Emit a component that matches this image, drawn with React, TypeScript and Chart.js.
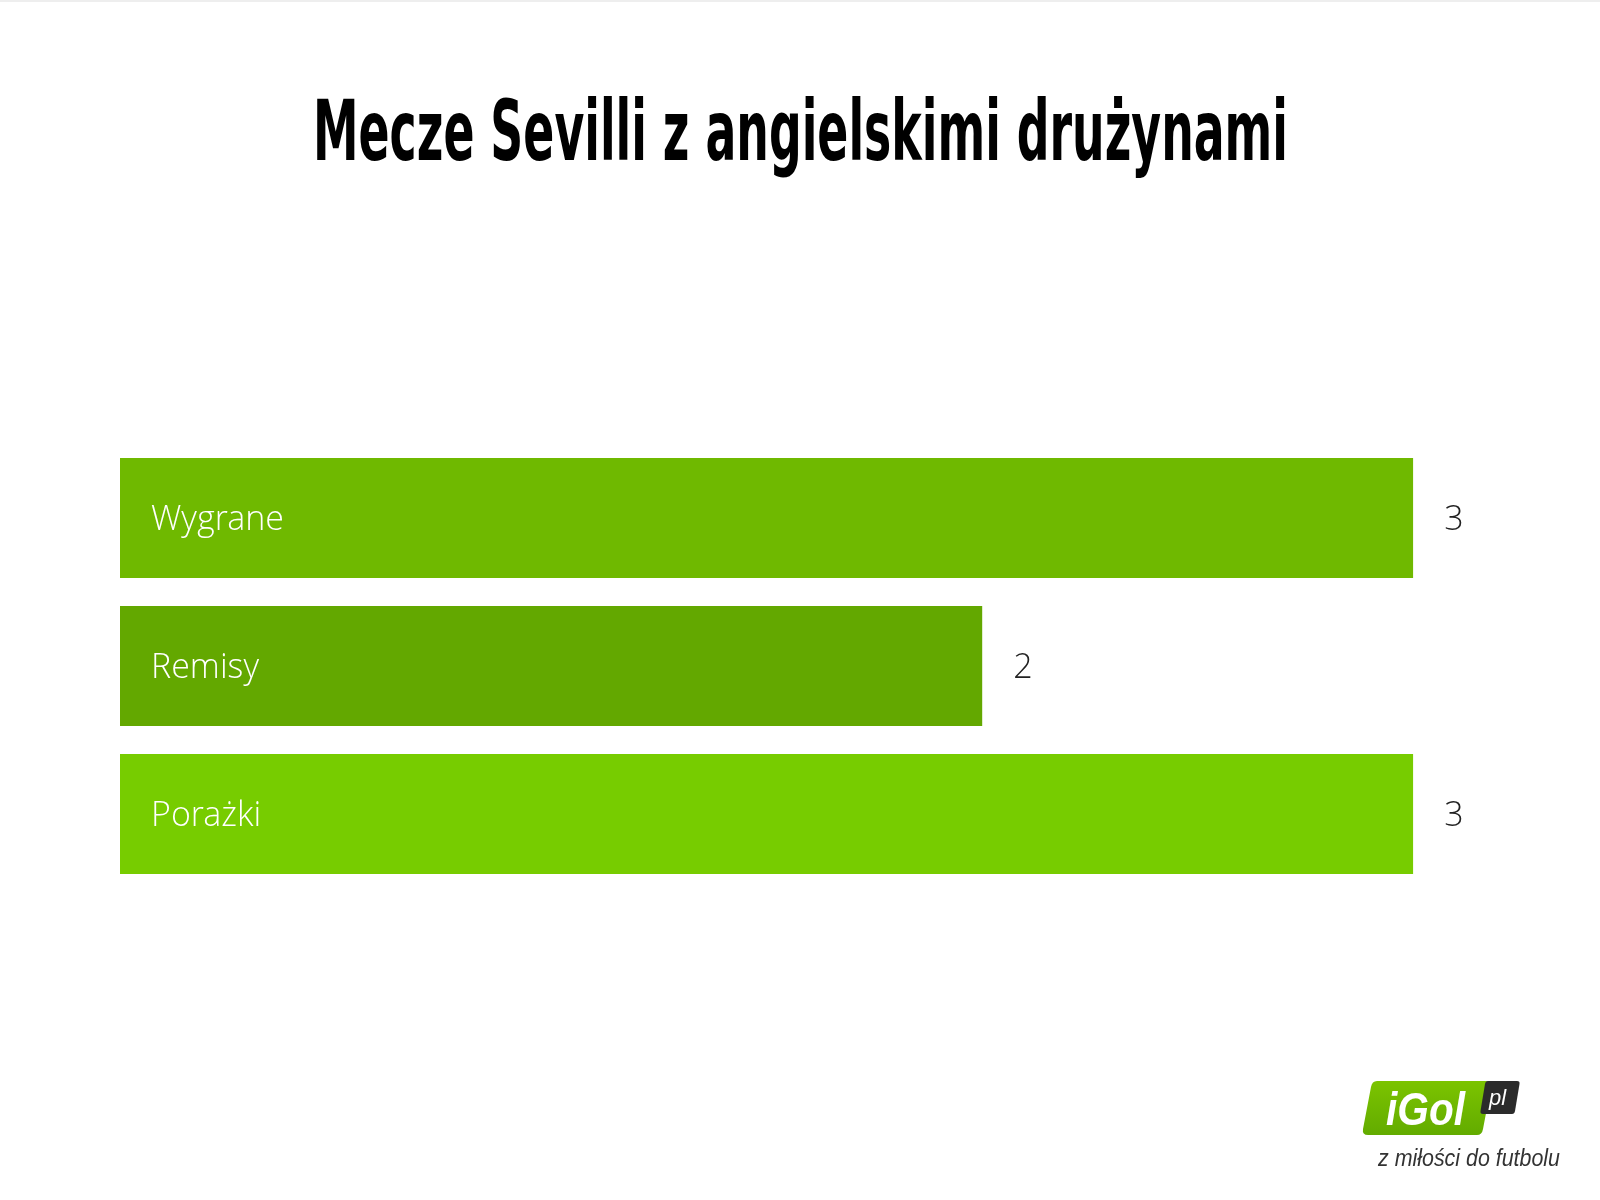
import React, { useEffect, useRef } from "react";
import { Chart, registerables } from "chart.js";

Chart.register(...registerables);

const TITLE = "Mecze Sevilli z angielskimi drużynami";
const categories = ["Wygrane", "Remisy", "Porażki"];
const values = [3, 2, 3];
const barColors = ["#6fb900", "#63a800", "#77cc00"];
const axisMax = 3;
const LOGO_MAIN = "iGol";
const LOGO_SUFFIX = "pl";
const LOGO_TAGLINE = "z miłości do futbolu";

const decorPlugin = {
  id: "decor",
  beforeDraw(chart: any) {
    const ctx = chart.ctx as CanvasRenderingContext2D;
    ctx.save();
    ctx.fillStyle = "#ffffff";
    ctx.fillRect(0, 0, chart.width, chart.height);
    ctx.fillStyle = "#eeeeee";
    ctx.fillRect(0, 0, chart.width, 2);
    ctx.restore();
  },
  afterDraw(chart: any) {
    const ctx = chart.ctx as CanvasRenderingContext2D;
    // Title, condensed
    ctx.save();
    ctx.font = "bold 84px 'Liberation Sans Narrow', 'DejaVu Sans Condensed', 'Liberation Sans', sans-serif";
    ctx.fillStyle = "#000000";
    ctx.textBaseline = "alphabetic";
    ctx.textAlign = "left";
    const w = ctx.measureText(TITLE).width;
    const targetW = 975;
    const sx = targetW / w;
    const left = 800.5 - targetW / 2;
    ctx.translate(left, 160);
    ctx.scale(sx, 1);
    ctx.fillText(TITLE, 0, 0);
    ctx.restore();

    // Logo
    ctx.save();
    const g = ctx.createLinearGradient(0, 1080, 0, 1136);
    g.addColorStop(0, "#7cc400");
    g.addColorStop(1, "#62ab00");
    ctx.fillStyle = g;
    const r = 6;
    const x0 = 1362, y0 = 1081, x1 = 1492, y1 = 1135, sk = 9;
    ctx.beginPath();
    ctx.moveTo(x0 + sk + r, y0);
    ctx.lineTo(x1 - r, y0);
    ctx.quadraticCurveTo(x1, y0, x1 - 1, y0 + r);
    ctx.lineTo(x1 - sk, y1 - r);
    ctx.quadraticCurveTo(x1 - sk - 1, y1, x1 - sk - r, y1);
    ctx.lineTo(x0 + r, y1);
    ctx.quadraticCurveTo(x0, y1, x0 + 1, y1 - r);
    ctx.lineTo(x0 + sk, y0 + r);
    ctx.quadraticCurveTo(x0 + sk + 1, y0, x0 + sk + r, y0);
    ctx.closePath();
    ctx.fill();

    // dark box
    ctx.fillStyle = "#2b2b2b";
    const bx0 = 1480, by0 = 1081, bx1 = 1520, by1 = 1114, bsk = 5;
    ctx.beginPath();
    ctx.moveTo(bx0 + bsk + 3, by0);
    ctx.lineTo(bx1 - 3, by0);
    ctx.quadraticCurveTo(bx1, by0, bx1 - 0.5, by0 + 3);
    ctx.lineTo(bx1 - bsk, by1 - 3);
    ctx.quadraticCurveTo(bx1 - bsk - 0.5, by1, bx1 - bsk - 3, by1);
    ctx.lineTo(bx0 + 3, by1);
    ctx.quadraticCurveTo(bx0, by1, bx0 + 0.5, by1 - 3);
    ctx.lineTo(bx0 + bsk, by0 + 3);
    ctx.quadraticCurveTo(bx0 + bsk + 0.5, by0, bx0 + bsk + 3, by0);
    ctx.closePath();
    ctx.fill();

    ctx.fillStyle = "#ffffff";
    ctx.textBaseline = "alphabetic";
    ctx.textAlign = "left";
    ctx.font = "italic bold 46px 'Liberation Sans Narrow', 'Liberation Sans', sans-serif";
    const mw = ctx.measureText(LOGO_MAIN).width;
    ctx.save();
    ctx.translate(1386, 1125);
    ctx.scale(79 / mw, 1);
    ctx.fillText(LOGO_MAIN, 0, 0);
    ctx.restore();
    ctx.font = "italic 22px 'Liberation Sans', 'DejaVu Sans', sans-serif";
    ctx.fillText(LOGO_SUFFIX, 1489, 1105);

    ctx.fillStyle = "#333333";
    ctx.font = "italic 23px 'Liberation Sans Narrow', 'Liberation Sans', sans-serif";
    const tw = ctx.measureText(LOGO_TAGLINE).width;
    ctx.translate(1378, 1166);
    ctx.scale(182 / tw, 1);
    ctx.fillText(LOGO_TAGLINE, 0, 0);
    ctx.restore();
  },
  afterDatasetsDraw(chart: any) {
    const ctx = chart.ctx as CanvasRenderingContext2D;
    const meta = chart.getDatasetMeta(0);
    ctx.save();
    ctx.font = "300 34px 'Open Sans Light', 'Open Sans', sans-serif";
    ctx.textBaseline = "alphabetic";
    ctx.textAlign = "left";
    meta.data.forEach((bar: any, i: number) => {
      const y = bar.y + 12;
      ctx.fillStyle = "#ffffff";
      ctx.fillText(categories[i], bar.base + 31, y);
      ctx.fillStyle = "#222222";
      ctx.fillText(String(values[i]), bar.x + 31, y);
    });
    ctx.restore();
  },
};

export default function App() {
  const ref = useRef<HTMLCanvasElement | null>(null);
  useEffect(() => {
    document.body.style.margin = "0";
    const canvas = ref.current!;
    const chart = new Chart(canvas, {
      type: "bar",
      data: {
        labels: categories,
        datasets: [
          {
            data: values,
            backgroundColor: barColors,
            borderWidth: 0,
            barPercentage: 120 / 148,
            categoryPercentage: 1,
          },
        ],
      },
      options: {
        indexAxis: "y",
        animation: false,
        responsive: false,
        maintainAspectRatio: false,
        devicePixelRatio: 1,
        layout: { padding: { left: 120, right: 186.7, top: 444, bottom: 312 } },
        plugins: {
          legend: { display: false },
          title: { display: false },
          tooltip: { enabled: false },
        },
        scales: {
          x: { display: false, min: 0, max: axisMax },
          y: { display: false },
        },
      },
      plugins: [decorPlugin],
    });
    return () => chart.destroy();
  }, []);
  return (
    <div style={{ width: 1600, height: 1200 }}>
      <canvas ref={ref} width={1600} height={1200} style={{ display: "block", width: 1600, height: 1200 }} />
    </div>
  );
}
